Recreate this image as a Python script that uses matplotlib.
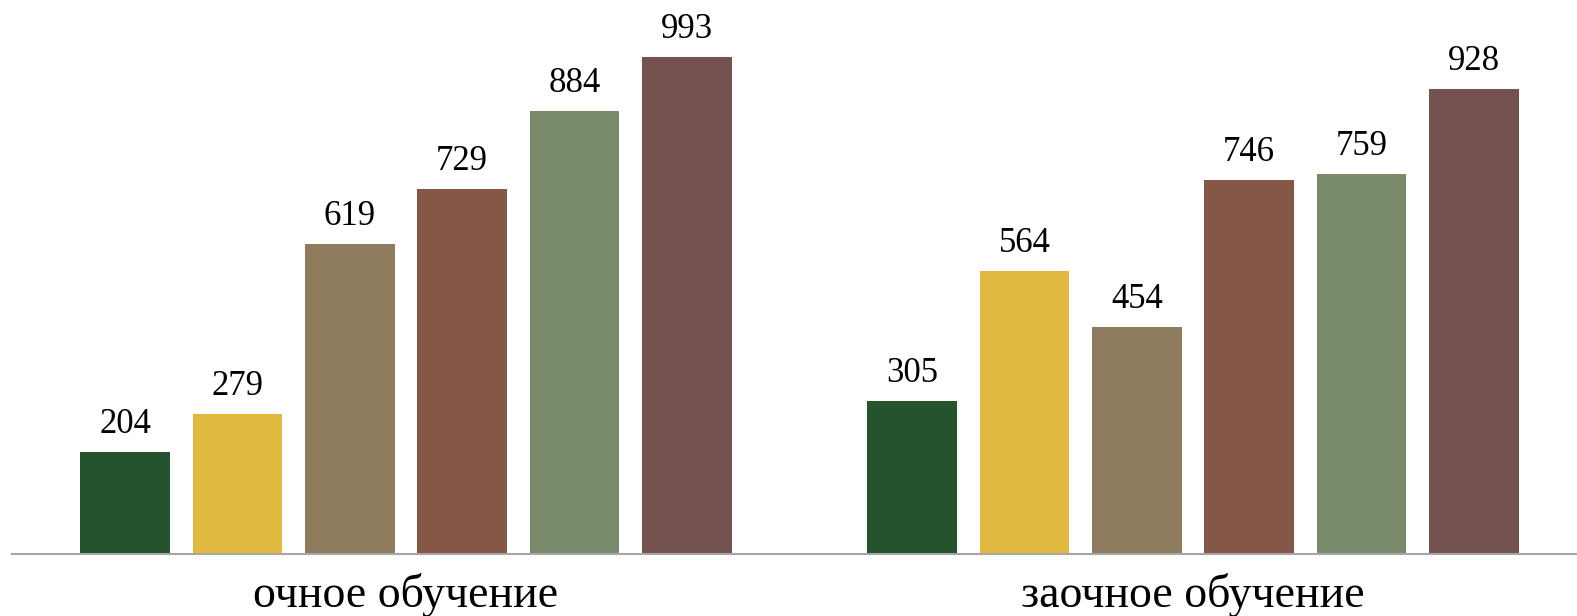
import matplotlib
matplotlib.use("Agg")
import matplotlib.pyplot as plt
import numpy as np

categories = ["очное обучение", "заочное обучение"]
series_values = [
    [204, 305],
    [279, 564],
    [619, 454],
    [729, 746],
    [884, 759],
    [993, 928],
]
colors = ["#24532D", "#E1B840", "#8F7C5E", "#855746", "#7A8B6C", "#755150"]

W, H = 1577, 616
fig = plt.figure(figsize=(W / 100, H / 100), dpi=100)
ax = fig.add_axes([12 / W, (H - 554) / H, 1 - 12 / W, 554 / H])

x = np.arange(len(categories))
pitch = 0.1428
width = 0.1137
n = len(series_values)
for k, vals in enumerate(series_values):
    pos = x + (k - (n - 1) / 2) * pitch
    ax.bar(pos, vals, width=width, color=colors[k], linewidth=0)
    for p, v in zip(pos, vals):
        ax.annotate(str(v), xy=(p, v), xytext=(0, 19), textcoords="offset pixels",
                    ha="center", va="baseline", fontsize=25,
                    family="Liberation Serif", color="black")

for xi, c in zip(x, categories):
    ax.annotate(c, xy=(xi, 0), xycoords=("data", "axes fraction"),
                xytext=(0, -53), textcoords="offset pixels",
                ha="center", va="baseline", fontsize=33,
                family="Liberation Serif", color="black")

ax.set_xlim(-0.5006, 1.488)
ax.set_ylim(0, 1106)
for s in ["top", "right", "left"]:
    ax.spines[s].set_visible(False)
ax.spines["bottom"].set_color("#A6A6A6")
ax.spines["bottom"].set_linewidth(1.5)
ax.set_xticks([])
ax.set_yticks([])
ax.patch.set_alpha(0)

fig.savefig("out.png", dpi=100)
